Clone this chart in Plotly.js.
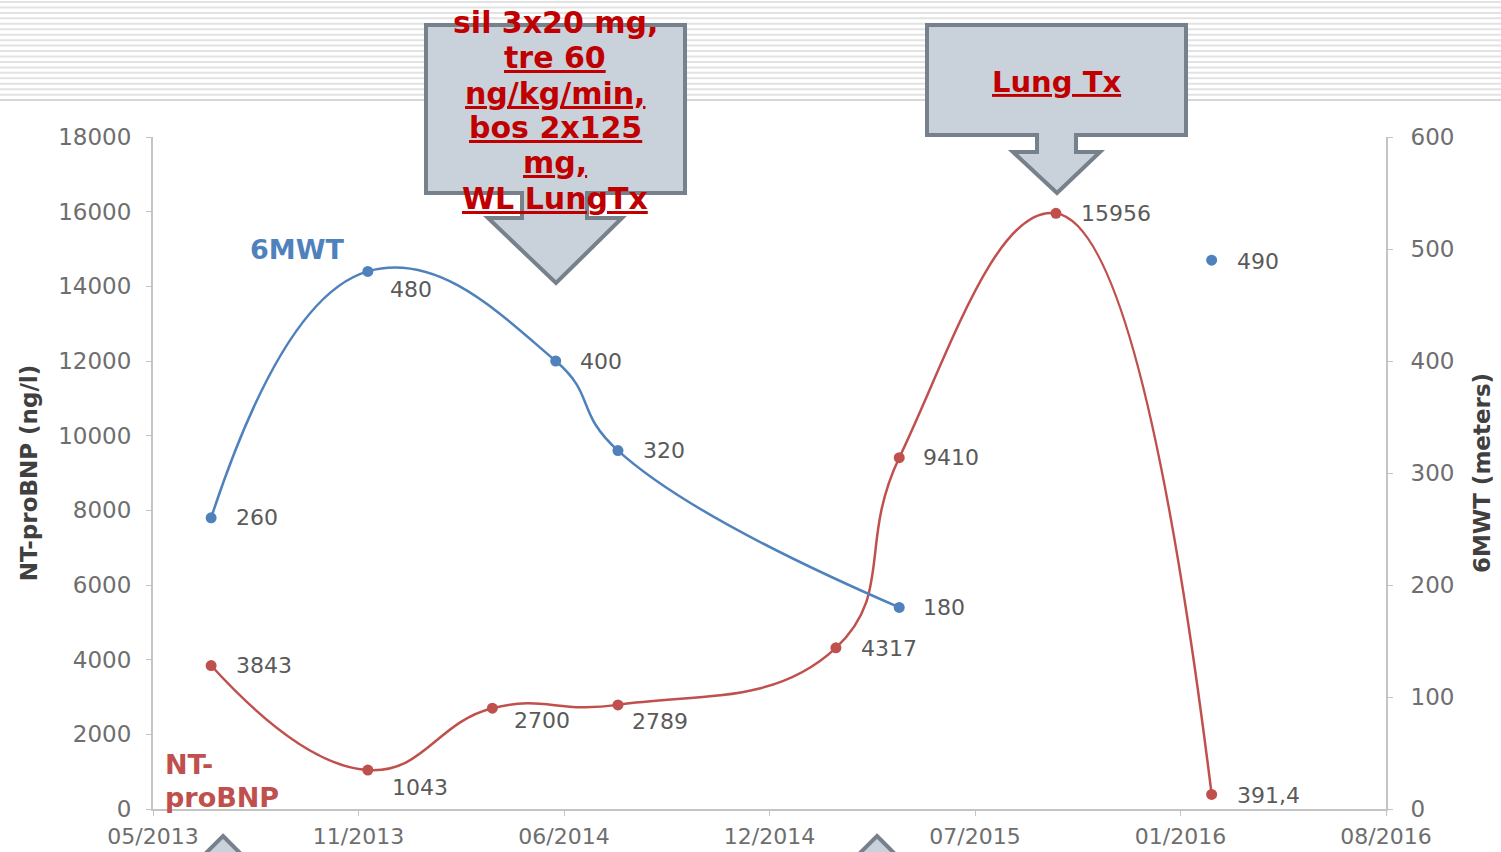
<!DOCTYPE html>
<html>
<head>
<meta charset="utf-8">
<script src="https://cdn.plot.ly/plotly-3.0.1.min.js"></script>
<style>
html,body{margin:0;padding:0;background:#fff;}
#chart{width:1501px;height:852px;}
</style>
</head>
<body>
<div id="chart"></div>
<script>
// ---- data ----
var tickDates = ['2013-05-15','2013-11-29','2014-06-15','2014-12-30','2015-07-16','2016-01-30','2016-08-15'];
var tickLabels = ['05/2013','11/2013','06/2014','12/2014','07/2015','01/2016','08/2016'];

var bnpDates = ['2013-07-10','2013-12-08','2014-04-07','2014-08-06','2015-03-04','2015-05-04','2015-10-02','2016-02-29'];
var bnpValues = [3843, 1043, 2700, 2789, 4317, 9410, 15956, 391.4];
var bnpLabels = ['3843','1043','2700','2789','4317','9410','15956','391,4'];

var mwtDates = ['2013-07-10','2013-12-08','2014-06-07','2014-08-06','2015-05-04','2015-10-02','2016-02-29'];
var mwtValues = [260, 480, 400, 320, 180, null, 490];
var mwtLabels = ['260','480','400','320','180','','490'];

var callout1Lines = ['sil 3x20 mg,','<u>tre 60</u>','<u>ng/kg/min,</u>','<u>bos 2x125</u>','<u>mg,</u>','<u>WL LungTx</u>'];
var callout2Text = '<u>Lung Tx</u>';

// ---- styling / placement ----
var RED = '#c0504d', BLUE = '#4f81bd', AX = '#c4c4c4', TXT = '#5a5a5a';
var L = 153, R = 1386, T = 137, B = 809, W = 1501, H = 852;
function px(x){ return (x - L) / (R - L); }
function py(y){ return (B - y) / (B - T); }
function path(pts){
  return 'M' + pts.map(function(p){ return px(p[0]).toFixed(5) + ',' + py(p[1]).toFixed(5); }).join(' L') + ' Z';
}
var bnpOffsets = [[23,0],[22,-17],[20,-12],[12,-17],[23,-1],[22,0],[23,0],[23,-1]];
var mwtOffsets = [[23,0],[20,-18],[22,0],[23,0],[22,0],[0,0],[23,-1]];

var traces = [
  {x: bnpDates, y: bnpValues, type: 'scatter', mode: 'lines+markers', name: 'NT-proBNP',
   line: {color: RED, width: 2.5, shape: 'spline', smoothing: 1.3}, marker: {color: RED, size: 11},
   yaxis: 'y', hoverinfo: 'x+y'},
  {x: mwtDates, y: mwtValues, type: 'scatter', mode: 'lines+markers', name: '6MWT',
   line: {color: BLUE, width: 2.5, shape: 'spline', smoothing: 1.3}, marker: {color: BLUE, size: 11},
   connectgaps: false, yaxis: 'y2', hoverinfo: 'x+y'}
];

var shapes = [];
// slide stripes at top
for (var k = 0; k < 19; k++) {
  var yy = 2 + k * 5.45;
  shapes.push({type: 'line', xref: 'paper', yref: 'paper', x0: px(0), x1: px(W), y0: py(yy), y1: py(yy),
    line: {color: k === 18 ? '#d6d6d6' : '#e2e2e2', width: 2}, layer: 'below'});
}
var calloutStyle = {fillcolor: '#c9d1da', line: {color: '#76818b', width: 4}};
shapes.push(Object.assign({type: 'path', xref: 'paper', yref: 'paper', layer: 'above',
  path: path([[426,25],[685,25],[685,193],[587,193],[587,218],[622,218],[556,283],[488,218],[522,218],[522,193],[426,193]])}, calloutStyle));
shapes.push(Object.assign({type: 'path', xref: 'paper', yref: 'paper', layer: 'above',
  path: path([[927,25],[1186,25],[1186,135],[1076,135],[1076,152],[1100,152],[1057,193],[1013,152],[1037,152],[1037,135],[927,135]])}, calloutStyle));
// partial up-arrows at bottom edge
shapes.push(Object.assign({type: 'path', xref: 'paper', yref: 'paper', layer: 'above',
  path: path([[223,836],[290,903],[156,903]])}, calloutStyle));
shapes.push(Object.assign({type: 'path', xref: 'paper', yref: 'paper', layer: 'above',
  path: path([[877,836],[944,903],[810,903]])}, calloutStyle));

var annotations = [];
var calloutFont = {family: 'DejaVu Sans, Verdana, sans-serif', size: 30, color: '#c00000', weight: 'bold'};
var c1y = [22, 57.5, 93, 128, 163, 198.5];
callout1Lines.forEach(function(t, i){
  annotations.push({xref: 'paper', yref: 'paper', x: px(555), y: py(c1y[i]), text: '<b>' + t + '</b>',
    showarrow: false, xanchor: 'center', yanchor: 'middle', font: calloutFont});
});
annotations.push({xref: 'paper', yref: 'paper', x: px(1056), y: py(82), text: '<b>' + callout2Text + '</b>',
  showarrow: false, xanchor: 'center', yanchor: 'middle', font: Object.assign({}, calloutFont, {size: 29})});

var seriesFont = {family: 'DejaVu Sans, Verdana, sans-serif', size: 27};
annotations.push({xref: 'paper', yref: 'paper', x: px(248), y: py(250), text: '<b>6MWT</b>', showarrow: false,
  xanchor: 'left', yanchor: 'middle', font: Object.assign({color: BLUE}, seriesFont)});
annotations.push({xref: 'paper', yref: 'paper', x: px(163), y: py(764), text: '<b>NT-</b>', showarrow: false,
  xanchor: 'left', yanchor: 'middle', font: Object.assign({color: RED}, seriesFont)});
annotations.push({xref: 'paper', yref: 'paper', x: px(163), y: py(797), text: '<b>proBNP</b>', showarrow: false,
  xanchor: 'left', yanchor: 'middle', font: Object.assign({color: RED}, seriesFont)});

var labelFont = {family: 'DejaVu Sans, sans-serif', size: 22, color: TXT};
bnpDates.forEach(function(d, i){
  annotations.push({xref: 'x', yref: 'y', x: d, y: bnpValues[i], text: bnpLabels[i], showarrow: false,
    xanchor: 'left', yanchor: 'middle', xshift: bnpOffsets[i][0], yshift: bnpOffsets[i][1], font: labelFont});
});
mwtDates.forEach(function(d, i){
  if (mwtValues[i] === null) return;
  annotations.push({xref: 'x', yref: 'y2', x: d, y: mwtValues[i], text: mwtLabels[i], showarrow: false,
    xanchor: 'left', yanchor: 'middle', xshift: mwtOffsets[i][0], yshift: mwtOffsets[i][1], font: labelFont});
});

var tickFont = {family: 'DejaVu Sans, sans-serif', size: 23, color: '#6e6e6e'};
var xTickFont = {family: 'DejaVu Sans, sans-serif', size: 22, color: '#6e6e6e'};
var titleFont = {family: 'DejaVu Sans, Verdana, sans-serif', size: 23, color: '#404040', weight: 'bold'};

var layout = {
  width: W, height: H,
  margin: {l: L, r: W - R, t: T, b: H - B, pad: 0},
  paper_bgcolor: '#ffffff', plot_bgcolor: 'rgba(0,0,0,0)',
  showlegend: false,
  xaxis: {type: 'date', range: [tickDates[0], tickDates[tickDates.length - 1]],
    tickmode: 'array', tickvals: tickDates, ticktext: tickLabels,
    showgrid: false, zeroline: false, showline: true, linecolor: AX, linewidth: 2,
    ticks: 'outside', ticklen: 5, tickcolor: AX, tickfont: xTickFont, ticklabelstandoff: 2, fixedrange: true},
  yaxis: {range: [0, 18000], dtick: 2000, tick0: 0, tickformat: 'd', showgrid: false, zeroline: false,
    showline: true, linecolor: AX, linewidth: 2, ticks: 'outside', ticklen: 5, tickcolor: AX,
    tickfont: tickFont, ticklabelstandoff: 10,
    title: {text: '<b>NT-proBNP (ng/l)</b>', font: titleFont, standoff: 14}},
  yaxis2: {range: [0, 600], dtick: 100, tick0: 0, tickformat: 'd', overlaying: 'y', side: 'right', showgrid: false,
    zeroline: false, showline: true, linecolor: AX, linewidth: 2, ticks: 'outside', ticklen: 5,
    tickcolor: AX, tickfont: tickFont, ticklabelstandoff: 13,
    title: {text: '<b>6MWT (meters)</b>', font: titleFont, standoff: 20}},
  shapes: shapes,
  annotations: annotations
};

Plotly.newPlot('chart', traces, layout, {displayModeBar: false, staticPlot: true});
</script>
</body>
</html>
